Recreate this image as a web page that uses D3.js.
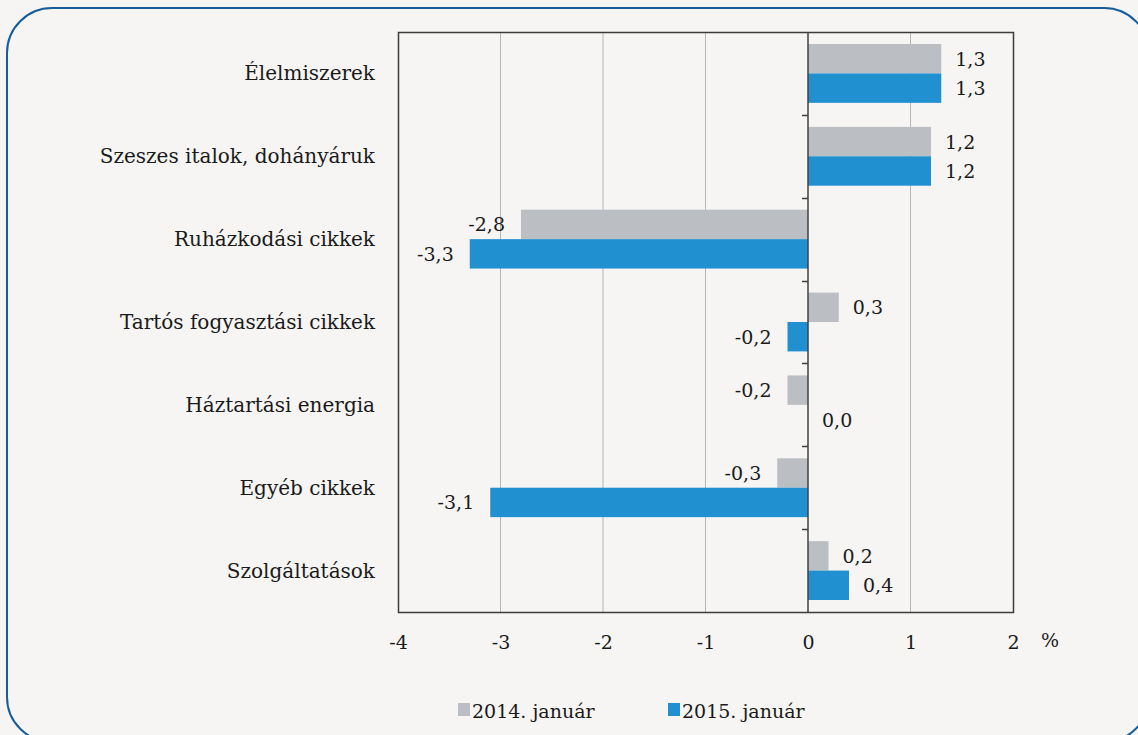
<!DOCTYPE html>
<html>
<head>
<meta charset="utf-8">
<script src="https://cdn.jsdelivr.net/npm/d3@7"></script>
<style>
  body { margin: 0; background: #f6f5f3; }
</style>
</head>
<body>
<div id="chart"></div>
<script>
var categories = ["Élelmiszerek", "Szeszes italok, dohányáruk", "Ruházkodási cikkek",
  "Tartós fogyasztási cikkek", "Háztartási energia", "Egyéb cikkek", "Szolgáltatások"];
var series_names = ["2014. január", "2015. január"];
var values_2014 = [1.3, 1.2, -2.8, 0.3, -0.2, -0.3, 0.2];
var values_2015 = [1.3, 1.2, -3.3, -0.2, 0.0, -3.1, 0.4];
var x_ticks = [-4, -3, -2, -1, 0, 1, 2];

var font = "'DejaVu Serif', serif";
var colors = ["#bbbec2", "#2190d0"];
var width = 1138, height = 735;
var margin = {top: 32, right: 125, bottom: 123, left: 398};

var svg = d3.select("#chart").append("svg")
  .attr("width", width)
  .attr("height", height)
  .style("font-family", font);

svg.append("rect")
  .attr("x", 7).attr("y", 8)
  .attr("width", 1142).attr("height", 734)
  .attr("rx", 45).attr("ry", 45)
  .attr("fill", "#f6f5f3")
  .attr("stroke", "#165d9c")
  .attr("stroke-width", 2);

var x = d3.scaleLinear()
  .domain([-4, 2])
  .range([margin.left, width - margin.right]);

var y = d3.scaleBand()
  .domain(categories)
  .range([margin.top, height - margin.bottom])
  .paddingInner(0.29)
  .paddingOuter(0.145);

var y_all = d3.scaleBand()
  .domain(categories)
  .range([margin.top, height - margin.bottom]);

var sub = d3.scaleBand()
  .domain(series_names)
  .range([0, y.bandwidth()]);

// gridlines
svg.append("g")
  .selectAll("line")
  .data(x_ticks.filter(function(d) { return d !== 0 && d !== -4 && d !== 2; }))
  .enter().append("line")
  .attr("x1", function(d) { return x(d); })
  .attr("x2", function(d) { return x(d); })
  .attr("y1", margin.top)
  .attr("y2", height - margin.bottom)
  .attr("stroke", "#b4b4ba")
  .attr("stroke-width", 1);

// bars
var rows = categories.map(function(c, i) {
  return {cat: c, vals: [values_2014[i], values_2015[i]]};
});

var groups = svg.append("g").selectAll("g")
  .data(rows)
  .enter().append("g")
  .attr("transform", function(d) { return "translate(0," + y(d.cat) + ")"; });

groups.selectAll("rect")
  .data(function(d) { return d.vals.map(function(v, j) { return {v: v, s: series_names[j], j: j}; }); })
  .enter().append("rect")
  .attr("x", function(d) { return x(Math.min(0, d.v)); })
  .attr("width", function(d) { return Math.abs(x(d.v) - x(0)); })
  .attr("y", function(d) { return sub(d.s); })
  .attr("height", sub.bandwidth())
  .attr("fill", function(d) { return colors[d.j]; });

groups.selectAll("text")
  .data(function(d) { return d.vals.map(function(v, j) { return {v: v, s: series_names[j], j: j}; }); })
  .enter().append("text")
  .attr("x", function(d) { return d.v < 0 ? x(d.v) - 16 : x(d.v) + 14; })
  .attr("y", function(d) { return sub(d.s) + sub.bandwidth() / 2 + 7; })
  .attr("text-anchor", function(d) { return d.v < 0 ? "end" : "start"; })
  .attr("fill", "#1a1a1a")
  .style("font-size", "19px")
  .text(function(d) { return d.v.toFixed(1).replace(".", ","); });

// zero axis with ticks on category boundaries
svg.append("line")
  .attr("x1", x(0)).attr("x2", x(0))
  .attr("y1", margin.top).attr("y2", height - margin.bottom)
  .attr("stroke", "#404040").attr("stroke-width", 1.5);

svg.append("g").selectAll("line")
  .data(categories.slice(1))
  .enter().append("line")
  .attr("x1", x(0) - 6).attr("x2", x(0))
  .attr("y1", function(d) { return Math.round(y_all(d)) + 0.5; })
  .attr("y2", function(d) { return Math.round(y_all(d)) + 0.5; })
  .attr("stroke", "#404040").attr("stroke-width", 1.5);

// plot frame
svg.append("rect")
  .attr("x", margin.left + 0.5).attr("y", margin.top + 0.5)
  .attr("width", x(2) - x(-4)).attr("height", height - margin.bottom - margin.top)
  .attr("fill", "none")
  .attr("stroke", "#3c3c3c").attr("stroke-width", 1.5);

// category labels
svg.append("g").selectAll("text")
  .data(categories)
  .enter().append("text")
  .attr("x", 375)
  .attr("y", function(d) { return y_all(d) + y_all.bandwidth() / 2 + 7; })
  .attr("text-anchor", "end")
  .attr("fill", "#1a1a1a")
  .style("font-size", "20px")
  .text(function(d) { return d; });

// x axis
var xAxis = d3.axisBottom(x)
  .tickValues(x_ticks)
  .tickSize(0)
  .tickPadding(24)
  .tickFormat(function(d) { return d; });

var gx = svg.append("g")
  .attr("transform", "translate(0," + (height - margin.bottom) + ")")
  .call(xAxis);
gx.attr("font-family", null).attr("font-size", null).style("font-size", "19px");
gx.select(".domain").remove();
gx.selectAll("text").attr("fill", "#1a1a1a");

svg.append("text")
  .attr("x", 1050).attr("y", 647)
  .attr("text-anchor", "middle")
  .attr("fill", "#1a1a1a")
  .style("font-size", "19px")
  .text("%");

// legend
var legend_x = [458, 668];
var leg = svg.append("g").selectAll("g")
  .data(series_names)
  .enter().append("g")
  .attr("transform", function(d, i) { return "translate(" + legend_x[i] + ",703)"; });

leg.append("rect")
  .attr("width", 12).attr("height", 13)
  .attr("fill", function(d, i) { return colors[i]; });

leg.append("text")
  .attr("x", 14).attr("y", 15)
  .attr("fill", "#1a1a1a")
  .style("font-size", "19px")
  .text(function(d) { return d; });
</script>
</body>
</html>
